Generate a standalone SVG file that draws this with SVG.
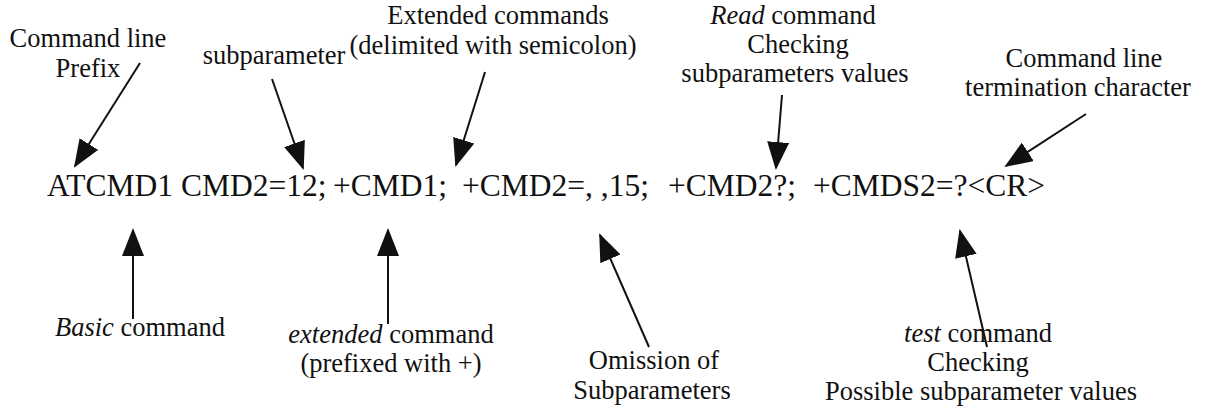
<svg xmlns="http://www.w3.org/2000/svg" width="1208" height="413" viewBox="0 0 1208 413">
  <style>
    .lbl { font-size: 26.5px; text-anchor: middle; }
    .cmd { font-size: 31.5px; }
    .it { font-style: italic; }
    .conn line { stroke: #111; stroke-width: 2; marker-end: url(#head); }
  </style>
  <defs>
    <marker id="head" viewBox="0 0 28 22" refX="26" refY="11" markerWidth="28" markerHeight="22" markerUnits="userSpaceOnUse" orient="auto">
      <path d="M0,0 L28,11 L0,22 Z" fill="#111"/>
    </marker>
  </defs>
  <rect width="1208" height="413" fill="#ffffff"/>

  <g font-family="'Liberation Serif', 'DejaVu Serif', 'Times New Roman', serif" fill="#111">
    <!-- the AT command line -->
    <g id="command-line">
      <text class="cmd" y="196">
        <tspan x="47">ATCMD1</tspan>
        <tspan x="181">CMD2=12;</tspan>
        <tspan x="333">+CMD1;</tspan>
        <tspan x="462">+CMD2=, ,15;</tspan>
        <tspan x="668">+CMD2?;</tspan>
        <tspan x="813">+CMDS2=?&lt;CR&gt;</tspan>
      </text>
    </g>

    <!-- labels above the line -->
    <g id="prefix">
      <text class="lbl" x="88" y="47">Command line</text>
      <text class="lbl" x="88" y="77">Prefix</text>
    </g>
    <g id="subparameter">
      <text class="lbl" x="274" y="64">subparameter</text>
    </g>
    <g id="extended-commands">
      <text class="lbl" x="498" y="24">Extended commands</text>
      <text class="lbl" x="493" y="54">(delimited with semicolon)</text>
    </g>
    <g id="read-command">
      <text class="lbl" x="793" y="24"><tspan class="it">Read</tspan> command</text>
      <text class="lbl" x="798" y="53">Checking</text>
      <text class="lbl" x="795" y="82">subparameters values</text>
    </g>
    <g id="termination">
      <text class="lbl" x="1084" y="67">Command line</text>
      <text class="lbl" x="1078" y="96">termination character</text>
    </g>

    <!-- labels below the line -->
    <g id="basic-command">
      <text class="lbl" x="140" y="336"><tspan class="it">Basic</tspan> command</text>
    </g>
    <g id="extended-command">
      <text class="lbl" x="391" y="343"><tspan class="it">extended</tspan> command</text>
      <text class="lbl" x="391" y="372">(prefixed with +)</text>
    </g>
    <g id="omission">
      <text class="lbl" x="654" y="369">Omission of</text>
      <text class="lbl" x="652" y="399">Subparameters</text>
    </g>
    <g id="test-command">
      <text class="lbl" x="978" y="342"><tspan class="it">test</tspan> command</text>
      <text class="lbl" x="978" y="371">Checking</text>
      <text class="lbl" x="981" y="400">Possible subparameter values</text>
    </g>
  </g>

  <!-- pointer arrows -->
  <g class="conn" id="connectors">
    <line x1="140" y1="63" x2="75" y2="166"/>
    <line x1="272" y1="79" x2="303" y2="168"/>
    <line x1="485" y1="72" x2="456" y2="165"/>
    <line x1="782" y1="95" x2="776" y2="168"/>
    <line x1="1086" y1="114" x2="1006" y2="166"/>
    <line x1="133" y1="319" x2="133" y2="230"/>
    <line x1="388" y1="324" x2="388" y2="230"/>
    <line x1="649" y1="347" x2="600" y2="235"/>
    <line x1="987" y1="347" x2="960" y2="231"/>
  </g>
</svg>
